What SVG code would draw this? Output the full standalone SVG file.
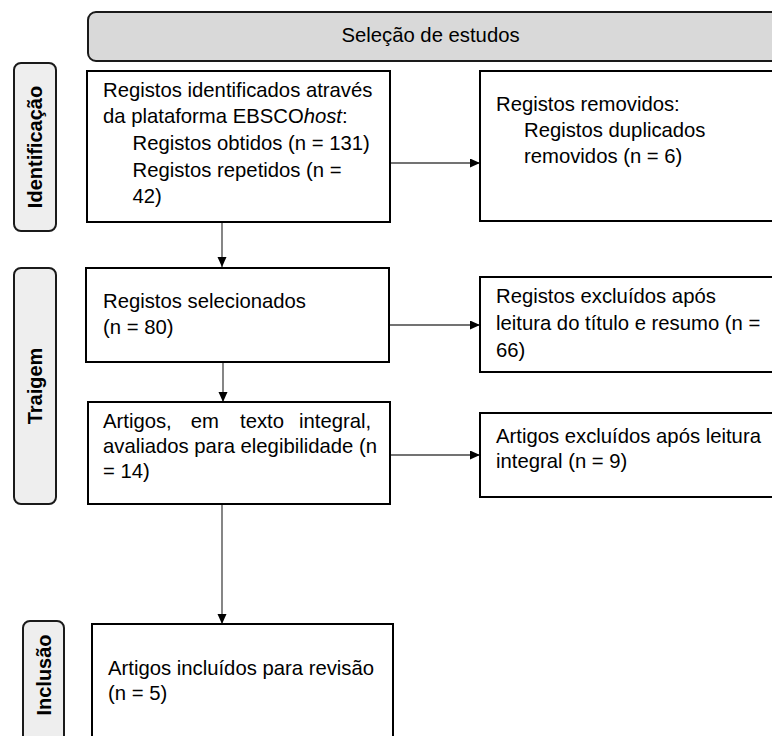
<svg xmlns="http://www.w3.org/2000/svg" width="772" height="736" viewBox="0 0 772 736">
<defs>
<marker id="ah" markerUnits="userSpaceOnUse" markerWidth="11" markerHeight="10" refX="10" refY="4.5" orient="auto">
<path d="M0,0 L10,4.5 L0,9 z" fill="#000"/>
</marker>
<style>
.box{fill:#fff;stroke:#000;stroke-width:2}
.hdr{fill:#d9d9d9;stroke:#1a1a1a;stroke-width:2}
.lab{fill:#eeeeee;stroke:#1a1a1a;stroke-width:2}
.t{font-family:"Liberation Sans",Arial,sans-serif;font-size:20.3px;fill:#000}
.lt{font-family:"Liberation Sans",Arial,sans-serif;font-size:20px;font-weight:bold;fill:#000;text-anchor:middle}
.c{stroke:#444;stroke-width:1.3;fill:none;marker-end:url(#ah)}
</style>
</defs>
<rect width="772" height="736" fill="#fff"/>
<g id="header">
<rect class="hdr" x="88" y="12" width="720" height="49" rx="8"/>
<text class="t" x="430.5" y="42" text-anchor="middle">Seleção de estudos</text>
</g>
<g id="label-identificacao">
<rect class="lab" x="14" y="63" width="42" height="168" rx="7"/>
<text class="lt" transform="translate(42,147) rotate(-90)">Identificação</text>
</g>
<g id="label-traigem">
<rect class="lab" x="14" y="268" width="42" height="236" rx="7"/>
<text class="lt" transform="translate(42,386) rotate(-90)">Traigem</text>
</g>
<g id="label-inclusao">
<rect class="lab" x="23" y="621" width="41" height="140" rx="7"/>
<text class="lt" transform="translate(51,675) rotate(-90)">Inclusão</text>
</g>
<g id="connectors">
<line class="c" x1="390" y1="163" x2="480" y2="163"/>
<line class="c" x1="222" y1="222" x2="222" y2="267"/>
<line class="c" x1="390" y1="325" x2="480" y2="325"/>
<line class="c" x1="223" y1="357" x2="223" y2="402"/>
<line class="c" x1="390" y1="455" x2="480" y2="455"/>
<line class="c" x1="222" y1="504" x2="222" y2="624"/>
</g>
<g id="n1">
<rect class="box" x="87" y="71" width="303" height="151"/>
<text class="t" x="103" y="97">Registos identificados através</text>
<text class="t" x="103" y="123">da plataforma EBSCO<tspan font-style="italic">host</tspan>:</text>
<text class="t" x="132.5" y="150">Registos obtidos (n = 131)</text>
<text class="t" x="132.5" y="177">Registos repetidos (n =</text>
<text class="t" x="132.5" y="203">42)</text>
</g>
<g id="n2">
<rect class="box" x="480" y="71" width="320" height="150"/>
<text class="t" x="496" y="111">Registos removidos:</text>
<text class="t" x="524" y="137">Registos duplicados</text>
<text class="t" x="524" y="163">removidos (n = 6)</text>
</g>
<g id="n3">
<rect class="box" x="86" y="268" width="303" height="94"/>
<text class="t" x="103" y="308">Registos selecionados</text>
<text class="t" x="103" y="334">(n = 80)</text>
</g>
<g id="n4">
<rect class="box" x="480" y="277" width="320" height="95"/>
<text class="t" x="496" y="303">Registos excluídos após</text>
<text class="t" x="496" y="330">leitura do título e resumo (n =</text>
<text class="t" x="496" y="357">66)</text>
</g>
<g id="n5">
<rect class="box" x="88" y="402" width="302" height="102"/>
<text class="t" y="428"><tspan x="103">Artigos,</tspan><tspan x="190.7">em</tspan><tspan x="240">texto</tspan><tspan x="299">integral,</tspan></text>
<text class="t" x="103" y="453">avaliados para elegibilidade (n</text>
<text class="t" x="103" y="478">= 14)</text>
</g>
<g id="n6">
<rect class="box" x="480" y="413" width="320" height="84"/>
<text class="t" x="496" y="443">Artigos excluídos após leitura</text>
<text class="t" x="496" y="468">integral (n = 9)</text>
</g>
<g id="n7">
<rect class="box" x="92" y="624" width="301" height="140"/>
<text class="t" x="108" y="675">Artigos incluídos para revisão</text>
<text class="t" x="108" y="700">(n = 5)</text>
</g>
</svg>
